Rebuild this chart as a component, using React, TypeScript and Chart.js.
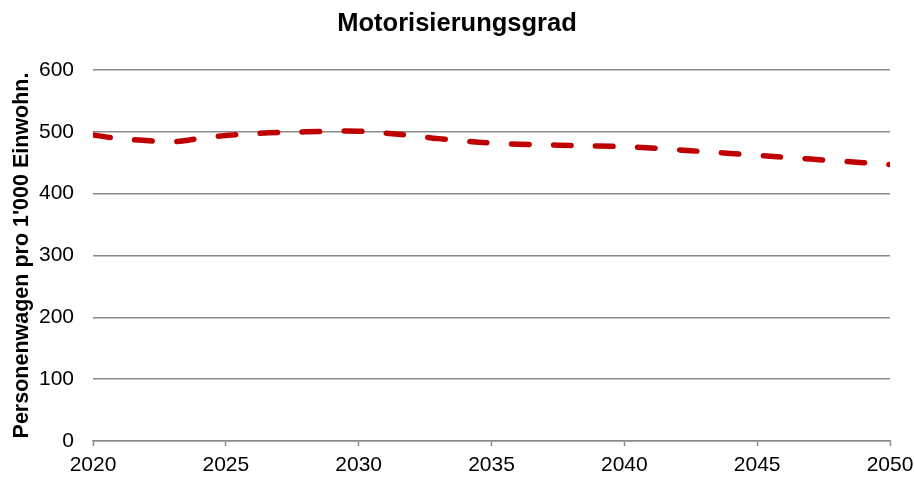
import React, { useEffect, useRef } from "react";
import { Chart, registerables } from "chart.js";

Chart.register(...registerables);

const years: number[] = [
  2020, 2021, 2022, 2023, 2024, 2025, 2026, 2027, 2028, 2029, 2030,
  2031, 2032, 2033, 2034, 2035, 2036, 2037, 2038, 2039, 2040,
  2041, 2042, 2043, 2044, 2045, 2046, 2047, 2048, 2049, 2050,
];
const motorisierung: number[] = [
  495, 489, 486, 484, 489, 494, 497, 499, 500, 501, 501,
  498, 494, 489, 485, 482, 480, 479, 478, 477, 476,
  474, 471, 468, 465, 462, 459, 456, 453, 450, 447,
];
const chartTitle = "Motorisierungsgrad";
const yAxisTitle = "Personenwagen pro 1'000 Einwohn.";
const seriesName = "Motorisierungsgrad";

const FONT = "'Liberation Sans', Arial, sans-serif";
const GRID = "#8a8a8a";

export default function App() {
  const ref = useRef<HTMLCanvasElement | null>(null);
  useEffect(() => {
    document.body.style.margin = "0";
    if (!ref.current) return;
    const chart = new Chart(ref.current, {
      type: "line",
      data: {
        datasets: [
          {
            label: seriesName,
            data: years.map((y, i) => ({ x: y, y: motorisierung[i] })),
            borderColor: "#C00000",
            backgroundColor: "#C00000",
            borderWidth: 5.5,
            borderDash: [17.5, 24.5],
            borderCapStyle: "round",
            pointRadius: 0,
            tension: 0.4,
            fill: false,
          },
        ],
      },
      options: {
        responsive: false,
        animation: false,
        layout: { padding: 0 },
        plugins: {
          legend: { display: false },
          tooltip: { enabled: false },
          title: {
            display: true,
            text: chartTitle,
            color: "#000",
            font: { family: FONT, size: 25.5, weight: "bold" },
            padding: { top: 9, bottom: 30.4 },
          },
        },
        scales: {
          x: {
            type: "linear",
            min: 2020,
            max: 2050,
            afterFit: (s: any) => {
              s.paddingLeft = 0;
              s.paddingRight = 24;
              s.height = 36;
            },
            ticks: {
              stepSize: 5,
              color: "#000",
              padding: 7,
              maxRotation: 0,
              font: { family: FONT, size: 21 },
              callback: (v: any) => String(v),
            },
            grid: {
              drawOnChartArea: false,
              drawTicks: true,
              tickLength: 5,
              tickWidth: 1.5,
              tickColor: GRID,
            },
            border: { display: true, color: GRID, width: 1.5 },
          },
          y: {
            min: 0,
            max: 600,
            afterFit: (s: any) => {
              s.width = 93;
            },
            ticks: {
              stepSize: 100,
              color: "#000",
              padding: 19,
              font: { family: FONT, size: 21 },
            },
            grid: {
              color: GRID,
              lineWidth: 1.5,
              drawTicks: false,
            },
            border: { display: false },
            title: {
              display: true,
              text: yAxisTitle,
              color: "#000",
              font: { family: FONT, size: 21.5, weight: "bold" },
              padding: { top: 9, bottom: 0 },
            },
          },
        },
      },
    });
    return () => chart.destroy();
  }, []);
  return (
    <div style={{ width: 914, height: 477 }}>
      <canvas ref={ref} width={914} height={477} style={{ display: "block" }} />
    </div>
  );
}
